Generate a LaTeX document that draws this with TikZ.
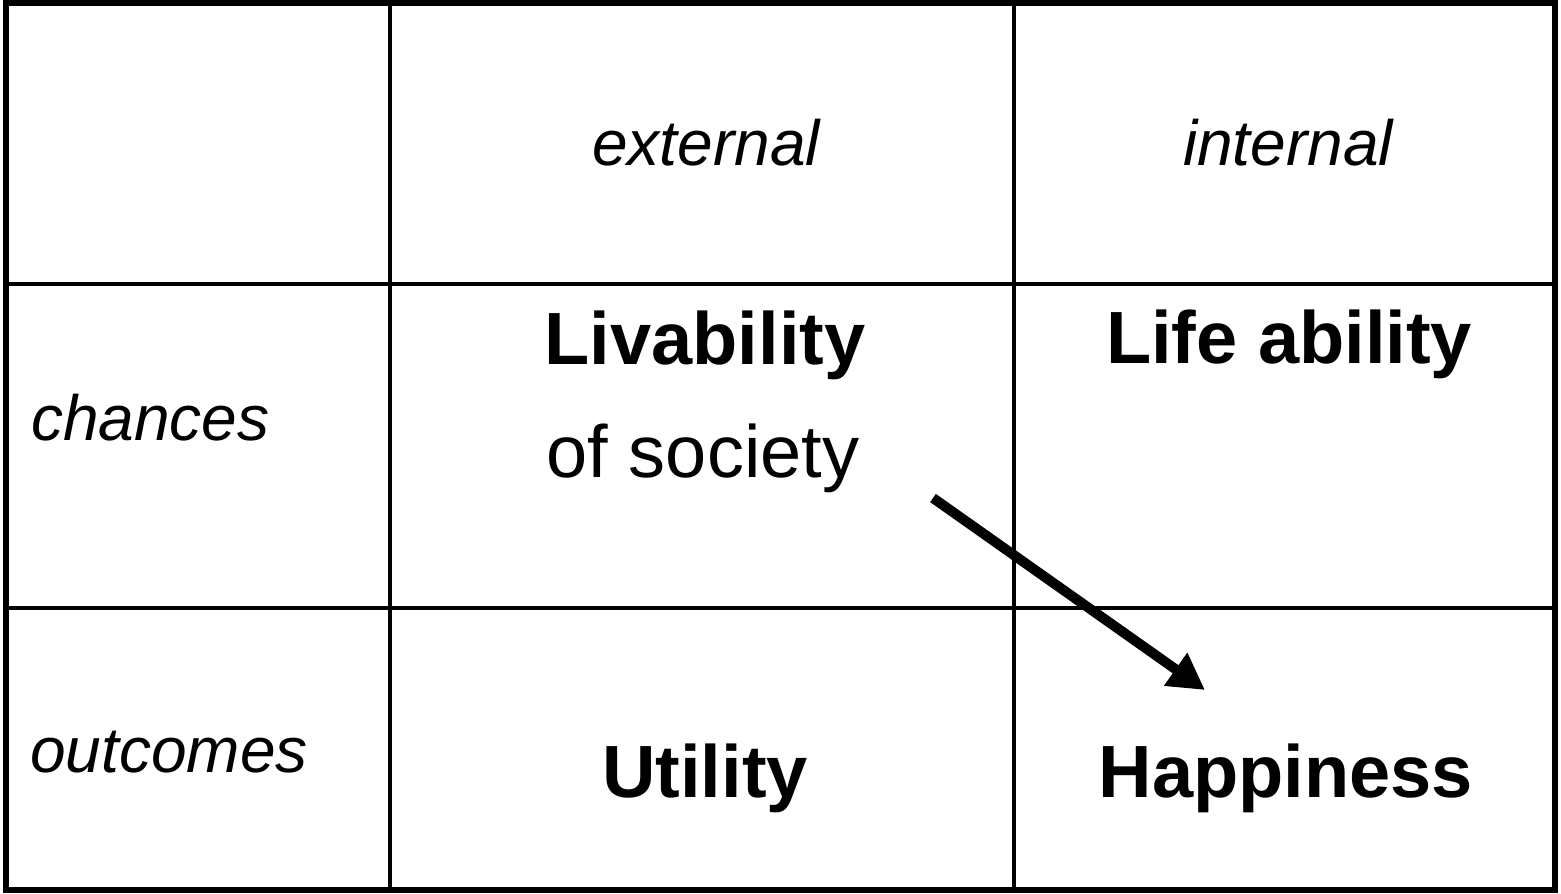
\documentclass[tikz,border=0pt]{standalone}
\usepackage{fontspec}
\setmainfont{Liberation Sans}
\usepackage{tikz}
\usetikzlibrary{arrows.meta,positioning}

\begin{document}
\begin{tikzpicture}[x=1pt, y=-1pt,
  head/.style={anchor=base, inner sep=0pt, font=\fontsize{64}{70}\selectfont\itshape},
  cell/.style={anchor=base, inner sep=0pt, font=\fontsize{74}{80}\selectfont\bfseries},
  plain/.style={anchor=base, inner sep=0pt, font=\fontsize{74}{80}\selectfont}]

\useasboundingbox (0,0) rectangle (1561,894);

% grid
\draw[line width=6.5pt] (6,3) rectangle (1555,890);
\draw[line width=4.5pt] (390,3) -- (390,890);
\draw[line width=4.5pt] (1014,3) -- (1014,890);
\draw[line width=4.5pt] (6,284) -- (1555,284);
\draw[line width=4.5pt] (6,608) -- (1555,608);

% column and row heads
\node[head] (ext) at (706,165) {external};
\node[head] (int) at (1288,165) {internal};
\node[head, anchor=base west] (cha) at (31,440) {chances};
\node[head, anchor=base west] (out) at (30,772) {outcomes};

% cells
\node[cell] (liv) at (705,364) {Livability};
\node[plain] (soc) at (703,477) {of society};
\node[cell] (lab) at (1289,363) {Life ability};
\node[cell] (uti) at (705,797) {Utility};
\node[cell] (hap) at (1286,797) {Happiness};

\coordinate (a) at (933,498);
\coordinate (b) at (1205,690);
\path[draw] [line width=10pt, -{Triangle[length=36pt, width=38pt]}] (a) -- (b);

\end{tikzpicture}
\end{document}
